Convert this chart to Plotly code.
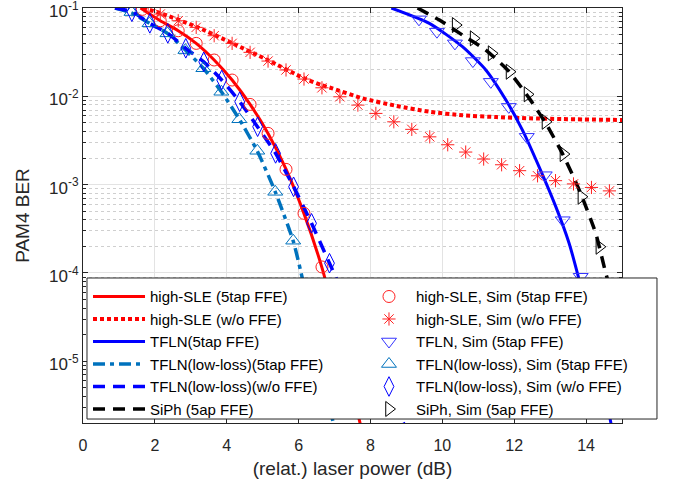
import plotly.graph_objects as go
import numpy as np

# ---------------- data ----------------
# high-SLE (5tap FFE) model line
sle5_x = [1.6, 2.15, 2.65, 3.15, 3.65, 4.15, 4.65, 5.15, 5.65, 6.15, 6.65, 7.0, 7.35, 7.75]
sle5_y = [0.1, 0.0718, 0.0553, 0.0398, 0.0258, 0.0153, 0.0081, 0.0038, 0.0015, 4.7e-4, 1.15e-4, 3.3e-5, 8.5e-6, 1.7e-6]
# high-SLE, Sim (5tap FFE) markers
sle5_sim_x = [1.65, 2.15, 2.65, 3.15, 3.65, 4.15, 4.65, 5.15, 5.65, 6.15, 6.65]
sle5_sim_y = [0.0966, 0.0718, 0.0553, 0.0398, 0.0258, 0.0153, 0.0081, 0.00381, 0.00149, 4.73e-4, 1.17e-4]

# high-SLE (w/o FFE) model line
sle0_x = [1.67, 2.14, 3.17, 4.14, 5.14, 6.14, 6.64, 6.86, 7.78, 8.72, 9.64, 10.56, 11.5, 12.42, 13.33, 15.0]
sle0_y = [0.1, 0.0878, 0.061, 0.0402, 0.0258, 0.0161, 0.0134, 0.0126, 0.0095, 0.0078, 0.0067, 0.0061, 0.00583, 0.00564, 0.00553, 0.0054]
# high-SLE, Sim (w/o FFE) markers
sle0_sim_x = [2.15, 2.65, 3.15, 3.65, 4.15, 4.65, 5.15, 5.65, 6.15, 6.65, 7.15, 7.65, 8.15,
              8.65, 9.15, 9.65, 10.15, 10.65, 11.15, 11.65, 12.15, 12.65, 13.15, 13.65, 14.15, 14.65]
sle0_sim_y = [0.0855, 0.0718, 0.0604, 0.0486, 0.0398, 0.0315, 0.0251, 0.0199, 0.0157, 0.0125, 0.00989,
              0.00796, 0.00641, 0.00515, 0.00423, 0.00348, 0.00283, 0.00234, 0.00195, 0.00168, 0.00144,
              0.00126, 0.00111, 0.00102, 0.00093, 0.00085]

# TFLN (5tap FFE) model line
tfln_x = [8.58, 9.64, 10.56, 11.21, 11.77, 12.23, 12.69, 13.16, 13.53, 13.76, 14.25, 14.75]
tfln_y = [0.1, 0.0671, 0.0365, 0.0199, 0.00908, 0.00415, 0.0016, 5.6e-4, 2.16e-4, 9.9e-5, 1.6e-5, 1.5e-6]
# TFLN, Sim (5tap FFE)
tfln_sim_x = [9.35, 9.85, 10.35, 10.85, 11.35, 11.85, 12.35, 12.85, 13.35, 13.85]
tfln_sim_y = [0.0745, 0.054, 0.0398, 0.0251, 0.0146, 0.0076, 0.00348, 0.00128, 3.96e-4, 9.06e-5]

# TFLN(low-loss)(5tap FFE) model line
tlo5_x = [0.89, 1.35, 1.85, 2.35, 2.85, 3.35, 3.85, 4.35, 4.85, 5.35, 5.85, 6.07, 6.5, 7.0]
tlo5_y = [0.1, 0.088, 0.0671, 0.0517, 0.0334, 0.0208, 0.0113, 0.0055, 0.0024, 8.3e-4, 2.3e-4, 1.0e-4, 1.6e-5, 1.7e-6]
# TFLN(low-loss), Sim (5tap FFE)
tlo5_sim_x = [1.35, 1.85, 2.35, 2.85, 3.35, 3.85, 4.35, 4.85, 5.35, 5.85]
tlo5_sim_y = [0.09, 0.0671, 0.0517, 0.0334, 0.0208, 0.01127, 0.0055, 0.00242, 8.3e-4, 2.32e-4]

# TFLN(low-loss)(w/o FFE) model line
tlo0_x = [0.89, 1.36, 1.86, 2.36, 2.86, 3.36, 3.86, 4.36, 4.86, 5.36, 5.86, 6.36, 6.86, 7.5, 8.2, 9.0]
tlo0_y = [0.1, 0.0908, 0.0671, 0.0517, 0.035, 0.0246, 0.0153, 0.0087, 0.0045, 0.00226, 9.5e-4, 3.65e-4, 1.29e-4, 3.4e-5, 8e-6, 1.7e-6]
# TFLN(low-loss), Sim (w/o FFE)
tlo0_sim_x = [1.36, 1.86, 2.36, 2.86, 3.36, 3.86, 4.36, 4.86, 5.36, 5.86, 6.36, 6.86]
tlo0_sim_y = [0.0908, 0.0671, 0.0517, 0.035, 0.0246, 0.0153, 0.00869, 0.00453, 0.00226, 9.46e-4, 3.65e-4, 1.29e-4]

# SiPh (5ap FFE) model line
siph_x = [9.31, 9.92, 10.56, 11.21, 11.86, 12.42, 12.88, 13.34, 13.81, 14.27, 14.55, 15.0]
siph_y = [0.1, 0.0731, 0.0494, 0.0334, 0.019, 0.00949, 0.00494, 0.00226, 8.7e-4, 2.8e-4, 9.9e-5, 2.3e-5]
# SiPh, Sim (5ap FFE)
siph_sim_x = [10.37, 10.87, 11.37, 11.87, 12.37, 12.87, 13.37, 13.87, 14.37]
siph_sim_y = [0.0642, 0.0454, 0.0307, 0.019, 0.01055, 0.00515, 0.00222, 7.3e-4, 1.98e-4]

x_ticks = [0, 2, 4, 6, 8, 10, 12, 14]
y_ticks = [1e-5, 1e-4, 1e-3, 1e-2, 1e-1]
y_ticktext = ["10<sup>-5</sup>", "10<sup>-4</sup>", "10<sup>-3</sup>", "10<sup>-2</sup>", "10<sup>-1</sup>"]

# ---------------- figure ----------------
FONT = "Liberation Sans, Arial, sans-serif"
TXT = "#262626"
LEG_FONT = 15

fig = go.Figure()

def line_trace(x, y, name, color, dash, width):
    fig.add_trace(go.Scatter(x=x, y=y, mode="lines", name=name, legend="legend",
                             line=dict(color=color, dash=dash, width=width, shape="spline", smoothing=0.6)))

def marker_trace(x, y, name, color, symbol, size):
    fig.add_trace(go.Scatter(x=x, y=y, mode="markers", name=name, legend="legend2",
                             marker=dict(symbol=symbol, size=size, color=color,
                                         line=dict(color=color, width=1))))

line_trace(sle5_x, sle5_y, "high-SLE (5tap FFE)", "#FF0000", "solid", 3)
line_trace(sle0_x, sle0_y, "high-SLE (w/o FFE)", "#FF0000", "4px,3px", 4)
line_trace(tfln_x, tfln_y, "TFLN(5tap FFE)", "#0000FF", "solid", 3)
line_trace(tlo5_x, tlo5_y, "TFLN(low-loss)(5tap FFE)", "#0072BD", "12px,5px,4px,5px", 3.5)
line_trace(tlo0_x, tlo0_y, "TFLN(low-loss)(w/o FFE)", "#0000FF", "12px,8px", 3.5)
line_trace(siph_x, siph_y, "SiPh (5ap FFE)", "#000000", "12px,8px", 3.5)

marker_trace(sle5_sim_x, sle5_sim_y, "high-SLE, Sim (5tap FFE)", "#FF2020", "circle-open", 12)
marker_trace(sle0_sim_x, sle0_sim_y, "high-SLE, Sim (w/o FFE)", "#FF2020", "asterisk-open", 11)
marker_trace(tfln_sim_x, tfln_sim_y, "TFLN, Sim (5tap FFE)", "#3535FF", "triangle-down-open", 13)
marker_trace(tlo5_sim_x, tlo5_sim_y, "TFLN(low-loss), Sim (5tap FFE)", "#0072BD", "triangle-up-open", 13)
marker_trace(tlo0_sim_x, tlo0_sim_y, "TFLN(low-loss), Sim (w/o FFE)", "#0000FF", "diamond-tall-open", 14)
marker_trace(siph_sim_x, siph_sim_y, "SiPh, Sim (5ap FFE)", "#000000", "triangle-right-open", 13)

minor_vals = [k * 10.0 ** e for e in range(-6, -1) for k in range(2, 10)]

fig.update_layout(
    width=676, height=484,
    margin=dict(l=83, r=54, t=8, b=61, autoexpand=False),
    paper_bgcolor="white", plot_bgcolor="white",
    font=dict(family=FONT, size=16, color=TXT),
    showlegend=True,
    legend=dict(
        x=0.0093, y=0.344, xanchor="left", yanchor="top",
        itemwidth=52, bgcolor="rgba(0,0,0,0)", borderwidth=0,
        font=dict(family=FONT, size=LEG_FONT, color="#000000"),
        traceorder="normal",
    ),
    legend2=dict(
        x=0.5176, y=0.344, xanchor="left", yanchor="top",
        itemwidth=44, bgcolor="rgba(0,0,0,0)", borderwidth=0,
        font=dict(family=FONT, size=LEG_FONT, color="#000000"),
        traceorder="normal",
    ),
    shapes=[dict(type="rect", xref="paper", yref="paper",
                 x0=0.0074, x1=1.0649, y0=0.0096, y1=0.3494,
                 fillcolor="white", line=dict(color="#262626", width=1), layer="above")],
    xaxis=dict(
        range=[0, 15], tickmode="array", tickvals=x_ticks, automargin=False,
        ticks="inside", ticklen=5, tickcolor=TXT, ticklabelstandoff=8,
        showline=True, linecolor=TXT, linewidth=1, mirror="ticks",
        showgrid=True, gridcolor="#e3e3e3", gridwidth=1, zeroline=False,
        tickfont=dict(size=16, color=TXT),
        title=dict(text="(relat.) laser power (dB)", font=dict(size=19, color=TXT), standoff=8),
    ),
    yaxis=dict(
        type="log", range=[np.log10(2e-6), -0.9995], automargin=False,
        tickmode="array", tickvals=y_ticks, ticktext=y_ticktext, ticklabeloverflow="allow",
        ticklabelshift=3,
        ticks="inside", ticklen=5, tickcolor=TXT,
        showline=True, linecolor=TXT, linewidth=1, mirror="ticks",
        showgrid=True, gridcolor="#e3e3e3", gridwidth=1, zeroline=False,
        tickfont=dict(size=17, color=TXT),
        title=dict(text="PAM4 BER", font=dict(size=19, color=TXT), standoff=14),
        minor=dict(tickmode="array", tickvals=minor_vals, ticks="inside", ticklen=3,
                   tickcolor=TXT, showgrid=True, gridcolor="#cfcfcf", griddash="dot", gridwidth=1),
    ),
)

fig.write_html("out.html", config={"displayModeBar": False},
               post_script="document.body.style.margin='0px';")
